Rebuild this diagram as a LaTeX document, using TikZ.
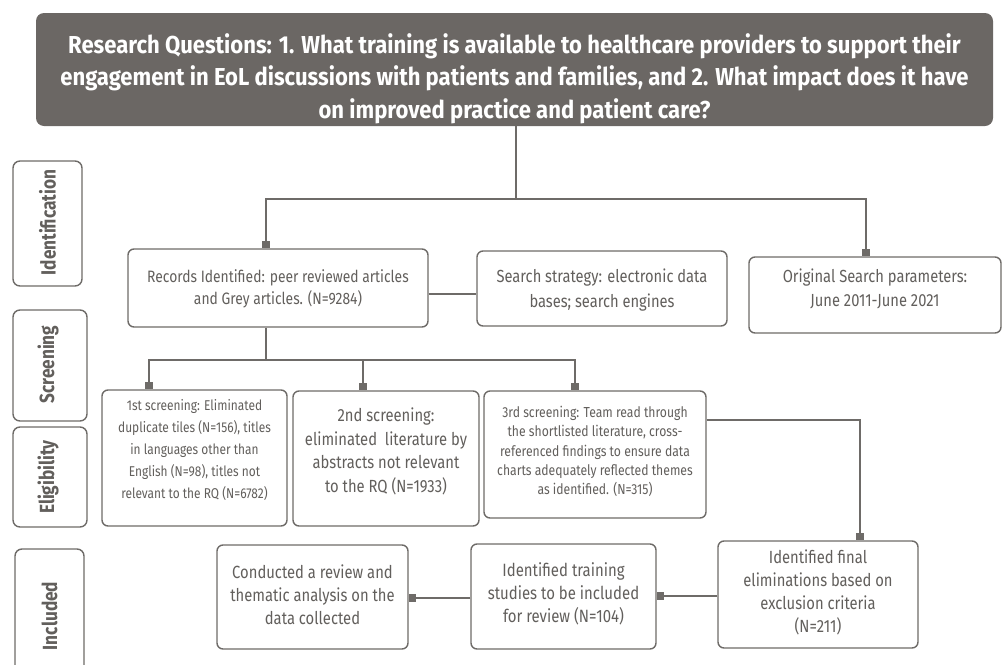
\documentclass[tikz,border=0pt]{standalone}
\usepackage{fontspec}
\setmainfont{Fira Sans}[FakeStretch=0.84]
\newfontfamily\hdrfont{Fira Sans}[FakeStretch=0.9]
\newfontfamily\sidefont{Fira Sans}[FakeStretch=0.84]
\usetikzlibrary{arrows.meta,calc}
\definecolor{hdrgray}{HTML}{6B6764}
\definecolor{linegray}{HTML}{6E6B68}
\definecolor{txtgray}{HTML}{625F5C}
\begin{document}
\begin{tikzpicture}[x=1pt,y=-1pt,
  conn/.style={draw=linegray,line width=1.6pt},
  sq/.style={conn,-{Square[length=7pt,width=8pt]}},
  box/.style={draw=linegray,line width=1.4pt,rounded corners=6pt,fill=white},
  txt/.style={text=txtgray,align=center,inner sep=0pt},
  side/.style={box,rounded corners=7pt},
  sidetxt/.style={text=txtgray,font=\sidefont\bfseries\fontsize{20.5}{24}\selectfont,rotate=90,inner sep=0pt}]
\useasboundingbox (0,0) rectangle (1004,664);
\begin{scope}
\clip (0,0) rectangle (1004,664);

% header with the research questions
\node[fill=hdrgray,rounded corners=8pt,minimum width=957pt,minimum height=113pt,inner sep=0pt]
  (hdr) at (514.5,69.5) {};
\node[text=white,align=center,inner sep=0pt,font=\hdrfont\bfseries\fontsize{24.5}{32.5}\selectfont]
  at ($(hdr.center)+(0,9)$) {Research Questions: 1. What training is available to healthcare providers to support their\\
  engagement in EoL discussions with patients and families, and 2. What impact does it have\\
  on improved practice and patient care?};

% phase labels on the left
\node[side,minimum width=69pt,minimum height=125pt] (pid) at (47.5,223.5) {};
\node[sidetxt] at ($(pid.center)+(0,-1)$) {Identification};
\node[side,minimum width=74pt,minimum height=111pt] (psc) at (50,365.5) {};
\node[sidetxt] at ($(psc.center)+(-2,-1)$) {Screening};
\node[side,minimum width=74pt,minimum height=100pt] (pel) at (50,477) {};
\node[sidetxt] at ($(pel.center)+(-2,0)$) {Eligibility};
\node[side,minimum width=69pt,minimum height=150pt] (pin) at (49.5,624) {};
\node[sidetxt] at (49.5,616) {Included};

% identification boxes
\node[box,minimum width=300pt,minimum height=78pt] (rec) at (278,288) {};
\node[txt,font=\fontsize{16.5}{22}\selectfont] at ($(rec.center)+(0,0.5)$) {Records Identified: peer reviewed articles\\and Grey articles. (N=9284)};
\node[box,minimum width=250pt,minimum height=75pt] (srch) at (602,288.5) {};
\node[txt,font=\fontsize{17.5}{25}\selectfont] at ($(srch.center)+(0,1.5)$) {Search strategy: electronic data\\bases; search engines};
\node[box,minimum width=252pt,minimum height=76pt] (orig) at (875,295) {};
\node[txt,font=\fontsize{17.5}{24}\selectfont] at ($(orig.center)+(0,-6)$) {Original Search parameters:\\June 2011-June 2021};

% screening / eligibility boxes
\node[box,minimum width=185pt,minimum height=136pt] (s1) at (194.5,458) {};
\node[txt,font=\fontsize{14.2}{22.2}\selectfont] at ($(s1.center)+(0,-8)$) {1st screening: Eliminated\\duplicate tiles (N=156), titles\\in languages other than\\English (N=98), titles not\\relevant to the RQ (N=6782)};
\node[box,minimum width=186pt,minimum height=135pt] (s2) at (386,458.5) {};
\node[txt,font=\fontsize{17.6}{23.5}\selectfont] at ($(s2.center)+(0,-7)$) {2nd screening:\\eliminated\ \ literature by\\abstracts not relevant\\to the RQ (N=1933)};
\node[box,minimum width=222pt,minimum height=127pt] (s3) at (595,454.5) {};
\node[txt,font=\fontsize{14.5}{19.2}\selectfont] at ($(s3.center)+(0,-3)$) {3rd screening: Team read through\\the shortlisted literature, cross-\\referenced findings to ensure data\\charts adequately reflected themes\\as identified. (N=315)};

% included boxes
\node[box,minimum width=200pt,minimum height=107pt] (fin) at (818,594.5) {};
\node[txt,font=\fontsize{17.6}{23}\selectfont] at ($(fin.center)+(0,-2)$) {Identified final\\eliminations based on\\exclusion criteria\\(N=211)};
\node[box,minimum width=185pt,minimum height=105pt] (trn) at (563.5,596.5) {};
\node[txt,font=\fontsize{17.8}{23}\selectfont] at ($(trn.center)+(0,-3)$) {Identified training\\studies to be included\\for review (N=104)};
\node[box,minimum width=191pt,minimum height=104pt] (cond) at (312.5,597) {};
\node[txt,font=\fontsize{17.6}{23}\selectfont] at ($(cond.center)+(0,-2)$) {Conducted a review and\\thematic analysis on the\\data collected};

% connectors
\coordinate (j1) at (516,199);
\coordinate (j2) at (266,360);
\draw[conn] (hdr.south -| j1) -- (j1);
\draw[sq] (j1) -| ($(rec.north)+(-12,0)$);
\draw[sq] (j1) -| ($(orig.north)+(-9,0)$);
\draw[conn] ($(rec.east)+(0,6)$) -- ($(srch.west)+(0,5.5)$);
\draw[conn] (rec.south -| j2) -- (j2);
\draw[sq] (j2) -| ($(s1.north)+(-45.5,0)$);
\draw[sq] (j2) -| ($(s2.north)+(-23,0)$);
\draw[sq] (j2) -| ($(s3.north)+(-20,0)$);
\draw[sq] ($(s3.east)+(0,-34.5)$) -| ($(fin.north)+(42,0)$);
\draw[sq] ($(fin.west)+(0,1.5)$) -- ($(trn.east)+(0,-0.5)$);
\draw[sq] ($(trn.west)+(0,1.5)$) -- ($(cond.east)+(0,1)$);
\end{scope}
\end{tikzpicture}
\end{document}
